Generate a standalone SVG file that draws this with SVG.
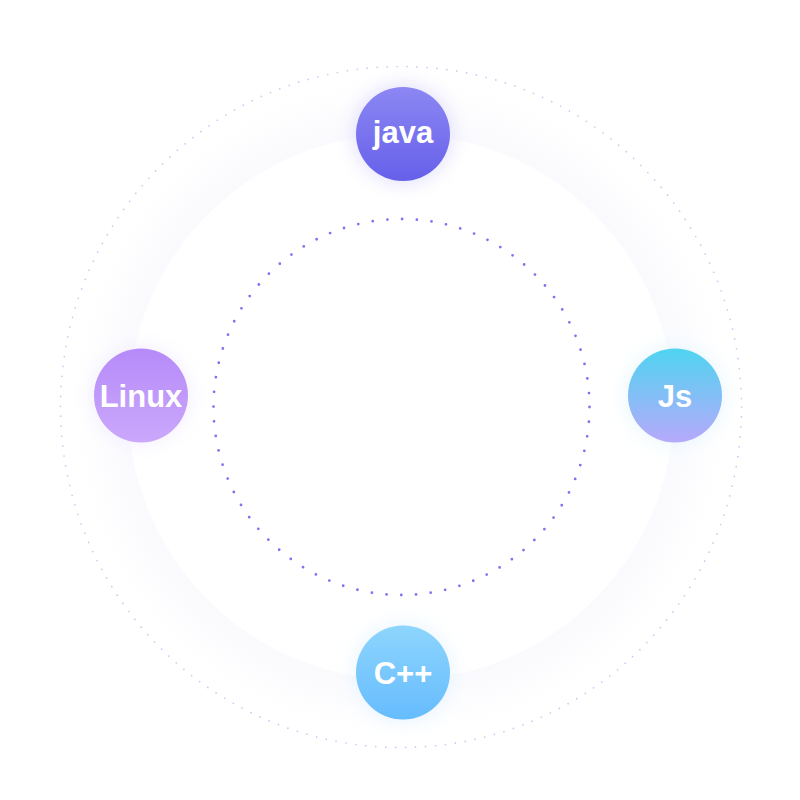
<svg xmlns="http://www.w3.org/2000/svg" width="800" height="800" viewBox="0 0 800 800">
  <defs>
    <radialGradient id="band" cx="401" cy="407" r="340" gradientUnits="userSpaceOnUse">
      <stop offset="0.80" stop-color="#f7f7fd" stop-opacity="0"/>
      <stop offset="0.805" stop-color="#f7f7fd" stop-opacity="0.6"/>
      <stop offset="0.88" stop-color="#f9f9fe" stop-opacity="0.4"/>
      <stop offset="1" stop-color="#ffffff" stop-opacity="0"/>
    </radialGradient>
    <linearGradient id="gJava" x1="0" y1="0" x2="0" y2="1">
      <stop offset="0" stop-color="#8c87f3"/>
      <stop offset="1" stop-color="#6660ea"/>
    </linearGradient>
    <linearGradient id="gJs" x1="0" y1="0" x2="0" y2="1">
      <stop offset="0" stop-color="#4fd4f0"/>
      <stop offset="1" stop-color="#b7a9fb"/>
    </linearGradient>
    <linearGradient id="gLinux" x1="0" y1="0" x2="0" y2="1">
      <stop offset="0" stop-color="#b68af9"/>
      <stop offset="1" stop-color="#cba8fb"/>
    </linearGradient>
    <linearGradient id="gCpp" x1="0" y1="0" x2="0" y2="1">
      <stop offset="0" stop-color="#8dd5fd"/>
      <stop offset="1" stop-color="#66bcfd"/>
    </linearGradient>
    <filter id="glow" x="-60%" y="-60%" width="220%" height="220%">
      <feGaussianBlur stdDeviation="9"/>
    </filter>
  </defs>
  <style>
    .label { font-family: "Liberation Sans", Arial, sans-serif; font-weight: bold; font-size: 31px; fill: #ffffff; text-anchor: middle; }
    .outer { fill: none; stroke: #c9c7f4; stroke-width: 1.7; stroke-linecap: round; stroke-dasharray: 0 10; }
    .inner { fill: none; stroke: #7d75f0; stroke-width: 2.8; stroke-linecap: round; stroke-dasharray: 0 14.77; }
  </style>
  <rect width="800" height="800" fill="#ffffff"/>
  <g id="rings">
    <circle cx="401" cy="407" r="340" fill="url(#band)"/>
    <circle class="outer" cx="401" cy="407" r="340.5"/>
    <circle class="inner" cx="401.5" cy="407" r="188"/>
  </g>
  <g id="node-java">
    <circle cx="403" cy="134" r="50" fill="#b3aef8" opacity="0.35" filter="url(#glow)"/>
    <circle cx="403" cy="134" r="47" fill="url(#gJava)"/>
    <text class="label" x="403" y="143">java</text>
  </g>
  <g id="node-js">
    <circle cx="675" cy="395.5" r="50" fill="#c8ecf9" opacity="0.35" filter="url(#glow)"/>
    <circle cx="675" cy="395.5" r="47" fill="url(#gJs)"/>
    <text class="label" x="675" y="406.5">Js</text>
  </g>
  <g id="node-linux">
    <circle cx="141" cy="395.5" r="50" fill="#e3d8fb" opacity="0.35" filter="url(#glow)"/>
    <circle cx="141" cy="395.5" r="47" fill="url(#gLinux)"/>
    <text class="label" x="141" y="406.5">Linux</text>
  </g>
  <g id="node-cpp">
    <circle cx="403" cy="672.5" r="50" fill="#c6e6fd" opacity="0.35" filter="url(#glow)"/>
    <circle cx="403" cy="672.5" r="47" fill="url(#gCpp)"/>
    <text class="label" x="403" y="683.5">C++</text>
  </g>
  <g id="connectors"></g>
</svg>
